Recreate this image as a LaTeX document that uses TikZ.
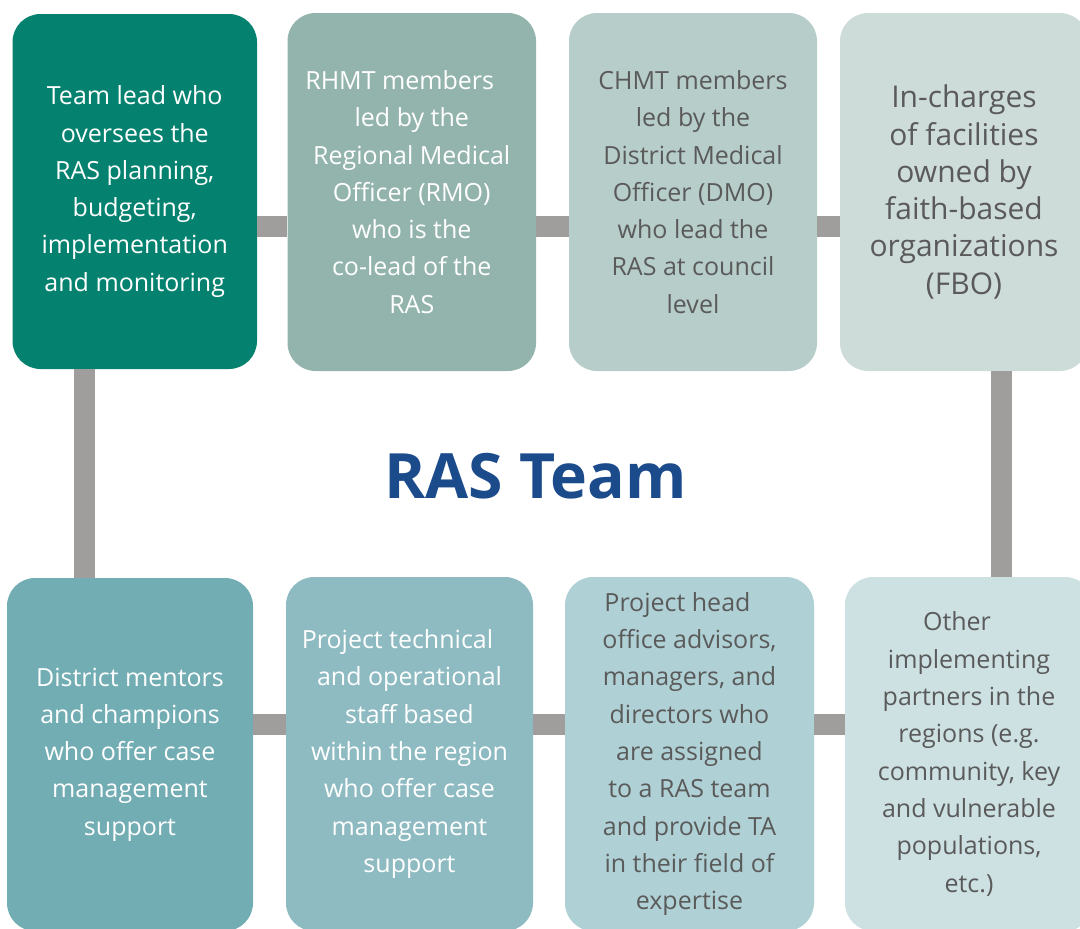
\documentclass[tikz,border=0pt]{standalone}
\usepackage{fontspec}
\setmainfont{Open Sans}
\definecolor{c1}{HTML}{05826F}
\definecolor{c2}{HTML}{93B4AC}
\definecolor{c3}{HTML}{B6CDC9}
\definecolor{c4}{HTML}{CEDCD9}
\definecolor{c5}{HTML}{72ADB4}
\definecolor{c6}{HTML}{8EBBC1}
\definecolor{c7}{HTML}{AFD1D5}
\definecolor{c8}{HTML}{CDE1E3}
\definecolor{barc}{HTML}{A09D9D}
\definecolor{darktext}{HTML}{5A5A5A}
\definecolor{titleblue}{HTML}{1C4B8C}
\begin{document}
\begin{tikzpicture}[x=1pt,y=-1pt,
  box/.style={rounded corners=28pt, inner sep=0pt, align=center,
    font=\fontsize{25}{37.3}\selectfont},
  lighttext/.style={text=white},
  graytext/.style={text=darktext},
  bar/.style={draw=barc, line width=21pt}]
\useasboundingbox (0,0) rectangle (1080,929);
\clip (0,0) rectangle (1080,929);
% top row
\node[box, lighttext, fill=c1, minimum width=244.5pt, minimum height=355pt] (b1) at (134.75,191.5)
  {Team lead who\\oversees the\\RAS planning,\\budgeting,\\implementation\\and monitoring};
\node[box, lighttext, fill=c2, minimum width=248.5pt, minimum height=358pt] (b2) at (411.75,192)
  {RHMT members\rule{24pt}{0pt}\\led by the\\Regional Medical\\Officer (RMO)\\who is the\\co-lead of the\\RAS};
\node[box, graytext, fill=c3, minimum width=248pt, minimum height=358pt] (b3) at (693,192)
  {CHMT members\\led by the\\District Medical\\Officer (DMO)\\who lead the\\RAS at council\\level};
\node[box, graytext, fill=c4, minimum width=248pt, minimum height=358pt,
  font=\fontsize{30}{37.3}\selectfont] (b4) at (964,192)
  {In-charges\\of facilities\\owned by\\faith-based\\organizations\\(FBO)};
% bottom row
\node[box, lighttext, fill=c5, minimum width=246pt, minimum height=353pt] (b5) at (130,754.5)
  {District mentors\\and champions\\who offer case\\management\\support};
\node[box, lighttext, fill=c6, minimum width=247pt, minimum height=354pt] (b6) at (409.5,754)
  {Project technical\rule{24pt}{0pt}\\and operational\\staff based\\within the region\\who offer case\\management\\support};
\node[box, graytext, fill=c7, minimum width=249pt, minimum height=354pt] (b7) at (689.5,754)
  {Project head\rule{24pt}{0pt}\\office advisors,\\managers, and\\directors who\\are assigned\\to a RAS team\\and provide TA\\in their field of\\expertise};
\node[box, graytext, fill=c8, minimum width=248pt, minimum height=354pt] (b8) at (969,754)
  {Other\rule{24pt}{0pt}\\implementing\\partners in the\\regions (e.g.\\community, key\\and vulnerable\\populations,\\etc.)};
% title
\node[anchor=base, inner sep=0pt, text=titleblue,
  font=\fontsize{62.5}{70}\selectfont\bfseries] (title) at (535.5,498) {RAS Team};
% connectors
\draw[bar] ([yshift=-35pt]b1.east) -- ([yshift=-35pt]b1.east -| b2.west);
\draw[bar] ([yshift=-34.5pt]b2.east) -- ([yshift=-34.5pt]b2.east -| b3.west);
\draw[bar] ([yshift=-34.5pt]b3.east) -- ([yshift=-34.5pt]b3.east -| b4.west);
\draw[bar] ([yshift=30.5pt]b5.east) -- ([yshift=30.5pt]b5.east -| b6.west);
\draw[bar] ([yshift=30pt]b6.east) -- ([yshift=30pt]b6.east -| b7.west);
\draw[bar] ([yshift=30pt]b7.east) -- ([yshift=30pt]b7.east -| b8.west);
\draw[bar] ([xshift=72.5pt]b1.south west) -- ([xshift=72.5pt]b1.south west |- b5.north);
\draw[bar] ([xshift=161.5pt]b4.south west) -- ([xshift=161.5pt]b4.south west |- b8.north);
\end{tikzpicture}
\end{document}
